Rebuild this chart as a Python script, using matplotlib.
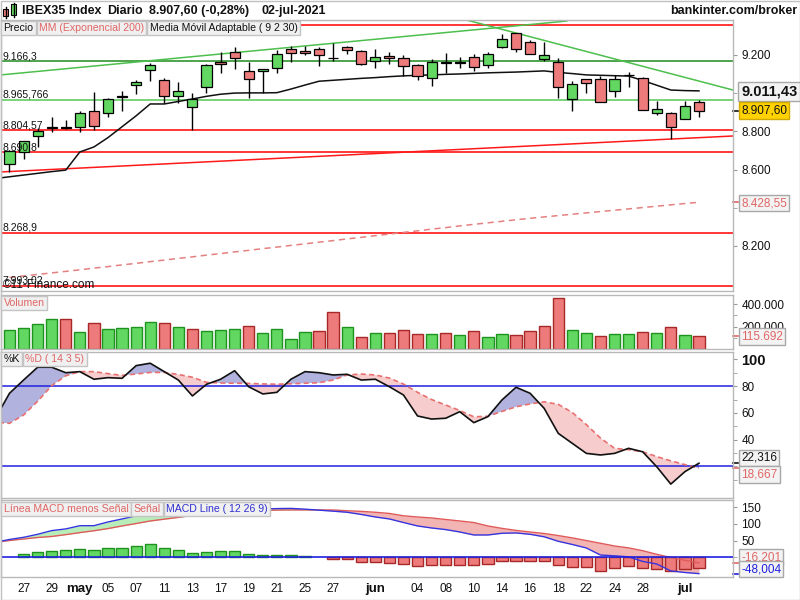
import numpy as np
import matplotlib
matplotlib.use('Agg')
import matplotlib.pyplot as plt
from matplotlib.patches import Rectangle
from matplotlib.lines import Line2D
from matplotlib.ticker import FuncFormatter, FixedLocator
import matplotlib.transforms as mtransforms

plt.rcParams['font.family'] = ['Liberation Sans', 'DejaVu Sans']

# ---------------- data ----------------
opens = [8627, 8693, 8777, 8817, 8821, 8821, 8906, 8894, 8980, 9041,
         9119, 9068, 8986, 8929, 9033, 9164, 9213, 9117, 9115, 9130,
         9229, 9220, 9232, 9181, 9240, 9222, 9168, 9196, 9182, 9145,
         9077, 9163, 9160, 9190, 9147, 9240, 9313, 9266, 9177, 9164,
         8969, 9072, 9074, 9012, 9096, 9077, 8894, 8894, 8864, 8952]
highs = [8700, 8751, 8819, 8873, 8859, 8906, 9007, 8972, 9011, 9068,
         9156, 9080, 9059, 9000, 9151, 9213, 9243, 9164, 9125, 9225,
         9246, 9246, 9243, 9260, 9246, 9224, 9229, 9216, 9199, 9152,
         9177, 9208, 9190, 9203, 9216, 9308, 9315, 9278, 9269, 9185,
         9063, 9076, 9089, 9095, 9112, 9083, 8960, 8903, 8958, 8964]
lows = [8589, 8654, 8719, 8798, 8810, 8795, 8807, 8876, 8908, 8994,
        9063, 8946, 8946, 8807, 9002, 9103, 9124, 8976, 8999, 9107,
        9164, 9199, 9143, 9168, 9203, 9147, 9130, 9151, 9089, 9068,
        9039, 9107, 9130, 9115, 9130, 9234, 9216, 9203, 9169, 8976,
        8906, 8999, 8951, 8981, 9033, 8910, 8885, 8760, 8864, 8873]
closes = [8698, 8751, 8802, 8820, 8817, 8894, 8829, 8967, 8983, 9058,
          9147, 8986, 9011, 8967, 9147, 9154, 9182, 9072, 9124, 9203,
          9208, 9209, 9198, 9183, 9225, 9151, 9187, 9182, 9142, 9089,
          9164, 9159, 9162, 9135, 9203, 9281, 9229, 9204, 9199, 9030,
          9049, 9052, 8952, 9074, 9093, 8913, 8918, 8821, 8932, 8907.60]
volume_k = [167, 185, 220, 265, 265, 149, 230, 176, 185, 194,
            238, 230, 194, 176, 158, 167, 176, 205, 140, 176,
            87, 149, 158, 328, 194, 104, 140, 140, 167, 134,
            134, 143, 122, 158, 104, 134, 122, 158, 205, 453,
            167, 140, 113, 134, 134, 149, 140, 194, 122, 115.692]
# lines (first value = session before the visible window)
mma = [8553, 8562, 8571, 8580, 8589, 8597, 8692, 8718, 8767, 8824,
       8881, 8943, 8943, 8956, 8969, 8983, 8994, 9000, 9001, 9001,
       9002, 9021, 9042, 9062, 9067, 9072, 9077, 9081, 9086, 9090,
       9093, 9095, 9098, 9100, 9103, 9106, 9108, 9110, 9113, 9116,
       9108, 9102, 9095, 9093, 9091, 9089, 9066, 9041, 9016, 9013, 9011.43]
ema200 = [8035, 8043, 8051, 8059, 8067, 8075, 8084, 8092, 8101, 8109,
          8118, 8126, 8135, 8143, 8152, 8160, 8169, 8177, 8186, 8194,
          8203, 8211, 8220, 8228, 8237, 8245, 8254, 8262, 8271, 8279,
          8288, 8296, 8305, 8313, 8321, 8329, 8337, 8345, 8352, 8359,
          8366, 8373, 8380, 8387, 8394, 8401, 8408, 8415, 8422, 8428.55]
stoch_k = [56, 74.7, 84.6, 94.2, 94.2, 90.1, 90.9, 85.2, 86.4, 85.9,
           95.4, 97.2, 90.9, 84.6, 72.7, 81.4, 85.2, 91.6, 79.6, 74.2,
           75.4, 85.2, 90.9, 90.1, 88.4, 88.9, 84.6, 85.2, 79.6, 73.4,
           57.7, 55.4, 56.0, 60.9, 52.7, 57.2, 69.7, 79.2, 74.7, 63.4,
           44.7, 37.2, 29.7, 28.5, 29.7, 33.5, 30.9, 19.7, 6.7, 16.0, 22.316]
stoch_d = [53, 52.2, 58.4, 68.7, 80.4, 87.8, 90.9, 90.9, 89.4, 88.1,
           89.1, 90.3, 90.3, 88.8, 86.7, 82.9, 82.4, 82.2, 82.1, 81.7,
           81.5, 81.8, 82.2, 82.6, 84.6, 88.4, 89.1, 88.4, 86.1, 81.6,
           75.4, 70.0, 65.9, 61.8, 57.1, 57.5, 61.1, 64.6, 66.7, 68.3,
           66.4, 60.3, 51.2, 41.2, 33.5, 32.5, 30.9, 27.3, 24.1, 21.3, 18.667]
macd_line = [45.5, 53.6, 60, 69, 80, 85, 94.6, 94.6, 105.7, 114.6,
             124, 133, 137.8, 140, 141.4, 142.6, 143.5, 144, 144.3, 144.3,
             145.5, 146, 143.8, 140.8, 137.8, 134.5, 128, 120.5, 114.6, 104,
             93.8, 87.8, 83, 75.9, 67, 67, 72, 73, 69, 61.6,
             48.2, 38.7, 28.3, 7.4, 5, 2, -11.6, -19.3, -40, -44.6, -48.004]
signal_line = [45, 50.6, 55, 59.5, 62.5, 68, 74, 79.5, 86, 93.8,
               101, 108.6, 114, 119.3, 125.3, 128.6, 133, 136.6, 138.4, 140,
               141, 141.4, 141.4, 141.4, 141.4, 139, 137.2, 134.5, 131, 124,
               120.5, 117.6, 113, 108.6, 104, 93.8, 86.6, 80.6, 75.9, 71.4,
               65.2, 58.3, 50.3, 42.3, 34.2, 28.6, 20.2, 9.5, 0, -8.3, -16.201]
macd_hist = [np.nan, 9, 15, 18, 22, 25, 22, 28, 28, 33,
             39, 28, 22, 12, 15, 18, 18, 9, 6, 6,
             6, 3, 0, -3, -3, -12, -12, -15, -20, -26,
             -22, -22, -22, -22, -18, -11, -9, -9, -11, -22,
             -28, -28, -39, -30, -26, -30, -34, -39, -34, -31.8]
h_levels = [9356.3, 9166.3, 8965.766, 8804.57, 8690.8, 8268.9, 7993.02]
h_labels = [None, '9.166,3', '8.965,766', '8.804,57', '8.690,8', '8.268,9', '7.993,02']
h_colors = ['#ff0000', '#1e8c1e', '#55c855', '#ff0000', '#ff0000', '#ff0000', '#ff0000']
trend_up_green = ([-0.68, 39.6], [9094.6, 9377.0])
trend_down_green = ([32.5, 51.42], [9382.0, 9016.0])
trend_up_red = ([-0.68, 51.42], [8587.0, 8775.4])
xlab_idx = [1, 3, 5, 7, 9, 11, 13, 15, 17, 19, 21, 23, 26, 29, 31, 33, 35, 37, 39, 41, 43, 45, 48]
xlab_txt = ['27', '29', 'may', '05', '07', '11', '13', '17', '19', '21', '25', '27', 'jun',
            '04', '08', '10', '14', '16', '18', '22', '24', '28', 'jul']
months = ['may', 'jun', 'jul']

# ---------------- helpers ----------------
W, H = 800, 600
fig = plt.figure(figsize=(8, 6), dpi=100)
fig.patch.set_facecolor('white')

def ax_px(left, top, right, bottom):
    return fig.add_axes([left / W, 1 - bottom / H, (right - left) / W, (bottom - top) / H])

def es(v, dec=0):
    s = f"{v:,.{dec}f}"
    return s.replace(',', 'X').replace('.', ',').replace('X', '.')

SPINE = '#b8b8b8'
GREEN_F, GREEN_E = '#62d862', '#1f931f'
RED_F, RED_E = '#ee7b7b', '#a82828'
SALMON = '#e06666'
BLUE = '#2020e0'

XL = (-0.604, 51.42)
idx = np.arange(50)
xl = np.arange(-1, 50)

def style(ax):
    ax.set_xlim(*XL)
    for s in ax.spines.values():
        s.set_color(SPINE)
        s.set_linewidth(1)
    ax.yaxis.tick_right()
    ax.tick_params(axis='y', which='both', direction='out', length=3, color='#999999',
                   labelsize=8.5, pad=3, labelcolor='#111111')
    ax.set_xticks([])

ax_p = ax_px(1, 20, 733, 291)
ax_v = ax_px(1, 295, 733, 349)
ax_s = ax_px(1, 352, 733, 498)
ax_m = ax_px(1, 500, 733, 577)
for a in (ax_p, ax_v, ax_s, ax_m):
    style(a)

# ---------------- price panel ----------------
ax_p.set_ylim(7964.3, 9382.4)
ax_p.yaxis.set_major_locator(FixedLocator([8200, 8600, 8800, 9200]))
ax_p.yaxis.set_minor_locator(FixedLocator([8400, 9000]))
ax_p.yaxis.set_major_formatter(FuncFormatter(lambda v, p: es(v)))
ytr = mtransforms.blended_transform_factory(ax_p.transAxes, ax_p.transData)
for lev, lab, col in zip(h_levels, h_labels, h_colors):
    ax_p.axhline(lev, color=col, lw=1.1, zorder=1)
    if lab:
        ax_p.text(0.0015, lev, lab, transform=ytr, fontsize=7.5, va='bottom', ha='left',
                  color='#111111', zorder=6)
for (tx, ty), col in [(trend_up_green, '#4cbf4c'), (trend_down_green, '#4cbf4c'),
                      (trend_up_red, '#ff1a1a')]:
    ax_p.plot(tx, ty, color=col, lw=1.1, zorder=1)
ax_p.plot(idx, ema200, color='#e58080', lw=1.1, dashes=(4, 3), zorder=2)
ax_p.plot(xl, mma, color='#111111', lw=1.1, zorder=2)
bw = 0.72
for i in idx:
    o, h, l, c = opens[i], highs[i], lows[i], closes[i]
    ax_p.plot([i, i], [l, h], color='black', lw=1, zorder=3, solid_capstyle='butt')
    lo, hi = min(o, c), max(o, c)
    fc = GREEN_F if c >= o else RED_F
    ax_p.add_patch(Rectangle((i - bw / 2, lo), bw, max(hi - lo, 1.0), fc=fc, ec='black',
                             lw=0.9, zorder=4))
fig.text(3 / W, 1 - 284.5 / H, '©11-Finance.com', fontsize=8.5, va='center', ha='left',
         color='#111111', zorder=6)

# ---------------- volume panel ----------------
vol = np.array(volume_k) * 1000
vcol = [GREEN_F if (i == 0 or closes[i] >= closes[i - 1]) else RED_F for i in idx]
vedge = [GREEN_E if c == GREEN_F else RED_E for c in vcol]
ax_v.bar(idx, vol, width=0.8, color=vcol, edgecolor=vedge, lw=1, zorder=2)
ax_v.set_ylim(0, 482000)
ax_v.yaxis.set_major_locator(FixedLocator([200000, 400000]))
ax_v.yaxis.set_minor_locator(FixedLocator([100000, 300000]))
ax_v.yaxis.set_major_formatter(FuncFormatter(lambda v, p: es(v)))

# ---------------- stochastic panel ----------------
K = np.array(stoch_k)
D = np.array(stoch_d)
ax_s.set_ylim(-3.7, 105.6)
ax_s.fill_between(xl, K, D, where=K >= D, interpolate=True, color='#b2b2de', lw=0, zorder=1)
ax_s.fill_between(xl, K, D, where=K < D, interpolate=True, color='#f6cccc', lw=0, zorder=1)
ax_s.axhline(80, color=BLUE, lw=1.1, zorder=2)
ax_s.axhline(20, color=BLUE, lw=1.1, zorder=2)
ax_s.plot(xl, D, color='#e87070', lw=1.2, dashes=(3, 2), zorder=3)
ax_s.plot(xl, K, color='#111111', lw=1.2, zorder=4)
ax_s.yaxis.set_major_locator(FixedLocator([40, 60, 80, 100]))
ax_s.yaxis.set_minor_locator(FixedLocator([10, 20, 30, 50, 70, 90]))
ax_s.yaxis.set_major_formatter(FuncFormatter(lambda v, p: es(v)))

# ---------------- MACD panel ----------------
M = np.array(macd_line)
S = np.array(signal_line)
ax_m.set_ylim(-58, 171)
ax_m.fill_between(xl, M, S, where=M >= S, interpolate=True, color='#b8ecb8', lw=0, zorder=1)
ax_m.fill_between(xl, M, S, where=M < S, interpolate=True, color='#f3b4b4', lw=0, zorder=1)
hist = np.array(macd_hist, dtype=float)
hcol = np.array([GREEN_F if v >= 0 else RED_F for v in np.nan_to_num(hist)])
hedge = np.array([GREEN_E if v >= 0 else RED_E for v in np.nan_to_num(hist)])
ok = ~np.isnan(hist) & (hist != 0)
ax_m.bar(idx[ok], hist[ok], width=0.8, color=hcol[ok], edgecolor=hedge[ok], lw=1, zorder=2)
ax_m.plot(xl, S, color='#e05a5a', lw=1, zorder=3)
ax_m.plot(xl, M, color='#3535e0', lw=1, zorder=4)
ax_m.axhline(0, color=BLUE, lw=1.2, zorder=5)
ax_m.yaxis.set_major_locator(FixedLocator([50, 100, 150]))
ax_m.yaxis.set_minor_locator(FixedLocator([0]))
ax_m.yaxis.set_major_formatter(FuncFormatter(lambda v, p: es(v)))
ax_m.set_xticks(xlab_idx)
ax_m.set_xticklabels(xlab_txt)
ax_m.tick_params(axis='x', length=0, labelsize=8.5, pad=4.5, labelcolor='#111111')
for t in ax_m.get_xticklabels():
    if t.get_text() in months:
        t.set_fontweight('bold')
        t.set_fontsize(9.5)

fig.canvas.draw()
for t in ax_s.get_yticklabels():
    if t.get_text() == '100':
        t.set_fontweight('bold')
        t.set_fontsize(10.5)

# ---------------- value markers on right axis ----------------
def marker(ax, v, col):
    tr = mtransforms.blended_transform_factory(ax.transAxes, ax.transData)
    ax.add_line(Line2D([1.0, 1.007], [v, v], transform=tr, color=col, lw=1.2, clip_on=False))

def vbox(yc, txt, col='#111111', fc='#f3f3f3', ec='#a8a8a8', size=8.5, weight='normal'):
    fig.text(741 / W, 1 - yc / H, txt, color=col, fontsize=size, fontweight=weight,
             ha='left', va='center', zorder=10,
             bbox=dict(boxstyle='square,pad=0.2', fc=fc, ec=ec, lw=1))

marker(ax_p, closes[-1], '#111111')
marker(ax_p, ema200[-1], SALMON)
marker(ax_v, vol[-1], SALMON)
marker(ax_s, K[-1], '#111111')
marker(ax_s, D[-1], SALMON)
marker(ax_m, S[-1], SALMON)
marker(ax_m, M[-1], BLUE)
vbox(91.5, es(mma[-1], 2), size=10.5, weight='bold')
vbox(110.5, es(closes[-1], 2), fc='#ffd200', ec='#d0a800')
vbox(203, es(ema200[-1], 2), col=SALMON)
vbox(336.5, es(vol[-1]), col=SALMON)
vbox(458, es(K[-1], 3), col='#111111')
vbox(474.5, es(D[-1], 3), col=SALMON)
vbox(557, es(S[-1], 3), col=SALMON)
vbox(569, es(M[-1], 3), col=BLUE)

# ---------------- legend boxes ----------------
renderer = fig.canvas.get_renderer()
def legend_row(items, x0, yc):
    x = x0
    for txt, col in items:
        t = fig.text(x / W, 1 - yc / H, txt, color=col, fontsize=7.6, ha='left', va='center',
                     zorder=9, bbox=dict(boxstyle='square,pad=0.22', fc='#f0f0f0',
                                         ec='#c4c4c4', lw=1))
        w = t.get_window_extent(renderer).width
        x = x + w + 5.5

legend_row([('Precio', '#111111'), ('MM (Exponencial 200)', SALMON),
            ('Media Móvil Adaptable ( 9 2 30)', '#111111')], 3.5, 28)
legend_row([('Volumen', SALMON)], 3.5, 303)
legend_row([('%K', '#111111'), ('%D ( 14 3 5)', SALMON)], 3.5, 359)
legend_row([('Línea MACD menos Señal', SALMON), ('Señal', SALMON),
            ('MACD Line ( 12 26 9)', '#3030d0')], 3.5, 509)

# ---------------- header ----------------
def px(x, y):
    return (x / W, 1 - y / H)

for (x0, y0, x1, y1, fc, wy0, wy1) in [(3.3, 9.3, 8.3, 16, RED_F, 6.5, 17.5),
                                      (11, 4, 16, 15, GREEN_F, 2.5, 17)]:
    xc = (x0 + x1) / 2
    fig.add_artist(Line2D([xc / W, xc / W], [1 - wy0 / H, 1 - wy1 / H], color='black', lw=1))
    fig.add_artist(Rectangle(px(x0, y1), (x1 - x0) / W, (y1 - y0) / H, fc=fc, ec='black',
                             lw=0.8, transform=fig.transFigure))
hdr = dict(fontsize=9, fontweight='bold', va='center', color='#111111')
fig.text(22 / W, 1 - 11 / H, 'IBEX35 Index', ha='left', **hdr)
fig.text(107 / W, 1 - 11 / H, 'Diario', ha='left', **hdr)
fig.text(149 / W, 1 - 11 / H, '8.907,60 (-0,28%)', ha='left', **hdr)
fig.text(261 / W, 1 - 11 / H, '02-jul-2021', ha='left', **hdr)
fig.text(797 / W, 1 - 11 / H, 'bankinter.com/broker', ha='right', **hdr)

fig.add_artist(Rectangle((0.5 / W, 0.5 / H), 799 / W, 599 / H, fill=False, ec='#c0c0c0', lw=1,
                         transform=fig.transFigure))

fig.savefig('out.png', dpi=100)
